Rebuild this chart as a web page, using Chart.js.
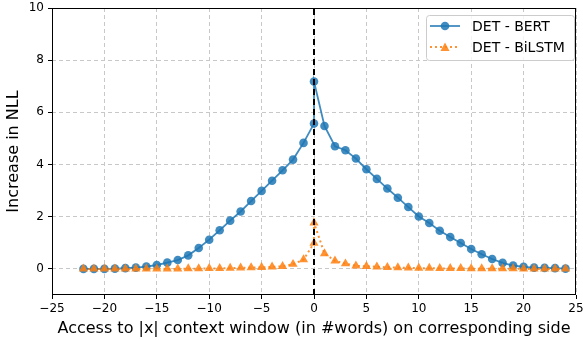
<!DOCTYPE html>
<html>
<head>
	<meta charset="utf-8">
	<title>DET - BERT vs BiLSTM</title>
	<script src="https://cdn.jsdelivr.net/npm/chart.js"></script>
	<style>
		html, body { margin: 0; padding: 0; background: #fff; }
		#grafico { display: block; }
	</style>
</head>
<body>
<canvas id="grafico" width="583" height="340"></canvas>
<script>
	// posiciones en x (el 0 aparece dos veces)
	var xPositions = [-22,-21,-20,-19,-18,-17,-16,-15,-14,-13,-12,-11,-10,-9,-8,-7,-6,-5,-4,-3,-2,-1,
		0,0,
		1,2,3,4,5,6,7,8,9,10,11,12,13,14,15,16,17,18,19,20,21,22,23,24];
	var bertValues = [0.00,0.00,0.00,0.01,0.03,0.05,0.09,0.15,0.24,0.34,0.52,0.80,1.12,1.48,1.85,2.20,2.60,2.99,3.38,3.78,4.19,4.83,
		5.57,7.18,
		5.48,4.70,4.55,4.23,3.82,3.45,3.08,2.73,2.37,2.01,1.76,1.46,1.22,0.99,0.76,0.56,0.38,0.23,0.13,0.08,0.05,0.04,0.03,0.01];
	var bilstmValues = [0,0,0,0,0,0,0,0,0,0,0.01,0.01,0.02,0.02,0.03,0.04,0.05,0.06,0.08,0.10,0.18,0.36,
		0.99,1.77,
		0.59,0.31,0.20,0.12,0.10,0.08,0.06,0.05,0.04,0.03,0.03,0.02,0.02,0.02,0.01,0.01,0.01,0.01,0.01,0,0,0,0,0];
	var seriesNames = ['DET - BERT', 'DET - BiLSTM'];
	var xTicks = [-25,-20,-15,-10,-5,0,5,10,15,20,25];
	var yTicks = [0,2,4,6,8,10];
	var centerLine = [-1, 10];

	var blue = 'rgba(31,119,180,0.85)';
	var orange = 'rgba(255,127,14,0.85)';
	var fontFam = '"DejaVu Sans", sans-serif';

	function toPoints(xs, ys) {
		return xs.map(function (x, i) { return {x: x, y: ys[i]}; });
	}
	function minus(v) {
		return v < 0 ? '\u2212' + Math.abs(v) : String(v);
	}

	// marco negro y leyenda como en matplotlib
	var framePlugin = {
		id: 'frame',
		afterDraw: function (chart) {
			var ctx = chart.ctx, a = chart.chartArea;
			ctx.save();
			ctx.strokeStyle = '#000';
			ctx.lineWidth = 1;
			ctx.strokeRect(a.left + 0.5, a.top + 0.5, a.right - a.left - 1, a.bottom - a.top - 1);

			// leyenda
			var bx = 426, by = 15, bw = 148, bh = 45;
			ctx.fillStyle = 'rgba(255,255,255,0.8)';
			ctx.strokeStyle = '#cccccc';
			ctx.beginPath();
			ctx.roundRect(bx + 0.5, by + 0.5, bw, bh, 3);
			ctx.fill();
			ctx.stroke();

			var rows = [26, 47];
			// BERT
			ctx.strokeStyle = blue; ctx.lineWidth = 1.8; ctx.setLineDash([]);
			ctx.beginPath(); ctx.moveTo(430, rows[0]); ctx.lineTo(460, rows[0]); ctx.stroke();
			ctx.fillStyle = blue;
			ctx.beginPath(); ctx.arc(445, rows[0], 4.3, 0, Math.PI * 2); ctx.fill();
			// BiLSTM
			ctx.strokeStyle = orange; ctx.setLineDash([2, 3]);
			ctx.beginPath(); ctx.moveTo(430, rows[1]); ctx.lineTo(460, rows[1]); ctx.stroke();
			ctx.setLineDash([]);
			ctx.fillStyle = orange;
			ctx.beginPath();
			ctx.moveTo(445, rows[1] - 4.5); ctx.lineTo(449.5, rows[1] + 4); ctx.lineTo(440.5, rows[1] + 4);
			ctx.closePath(); ctx.fill();

			ctx.fillStyle = '#000';
			ctx.font = '14px ' + fontFam;
			ctx.textBaseline = 'middle';
			ctx.fillText(seriesNames[0], 472, rows[0] + 1);
			ctx.fillText(seriesNames[1], 472, rows[1] + 1);
			ctx.restore();
		}
	};

	var ctx = document.getElementById('grafico').getContext('2d');
	var chart = new Chart(ctx, {
		type: 'scatter',
		data: {
			datasets: [{
				label: 'center',
				data: toPoints([0, 0], centerLine),
				showLine: true,
				borderColor: '#000',
				borderWidth: 2,
				borderDash: [6, 4],
				pointRadius: 0,
				order: 0
			}, {
				label: seriesNames[1],
				data: toPoints(xPositions, bilstmValues),
				showLine: true,
				borderColor: orange,
				backgroundColor: orange,
				borderWidth: 2,
				borderDash: [2, 3],
				pointStyle: 'triangle',
				pointRadius: 5.3,
				pointBorderWidth: 0,
				order: 1
			}, {
				label: seriesNames[0],
				data: toPoints(xPositions, bertValues),
				showLine: true,
				borderColor: blue,
				backgroundColor: blue,
				borderWidth: 1.8,
				pointRadius: 4.3,
				pointBorderWidth: 0,
				order: 2
			}]
		},
		options: {
			responsive: false,
			animation: false,
			devicePixelRatio: 1,
			layout: { padding: { top: 8, right: 7, left: 0, bottom: 0 } },
			plugins: { legend: { display: false }, tooltip: { enabled: false } },
			scales: {
				x: {
					type: 'linear', min: -25, max: 25,
					afterBuildTicks: function (s) { s.ticks = xTicks.map(function (v) { return {value: v}; }); },
					afterFit: function (s) { s.height = 45; s.paddingLeft = 0; s.paddingRight = 0; },
					grid: { color: '#c8c8c8', tickColor: '#000', tickLength: 4, tickBorderDash: [], tickWidth: 1 },
					border: { display: false, dash: [4, 3] },
					ticks: { color: '#000', padding: 3, maxRotation: 0, autoSkip: false, font: { family: fontFam, size: 12 },
						callback: function (v) { return minus(v); } },
					title: { display: true, text: 'Access to |x| context window (in #words) on corresponding side',
						color: '#000', font: { family: fontFam, size: 16 }, padding: { top: 0, bottom: 2 } }
				},
				y: {
					type: 'linear', min: -1, max: 10,
					afterBuildTicks: function (s) { s.ticks = yTicks.map(function (v) { return {value: v}; }); },
					afterFit: function (s) { s.width = 52; s.paddingTop = 0; s.paddingBottom = 0; },
					grid: { color: '#c8c8c8', tickColor: '#000', tickLength: 4, tickBorderDash: [], tickWidth: 1 },
					border: { display: false, dash: [4, 3] },
					ticks: { color: '#000', padding: 4, autoSkip: false, font: { family: fontFam, size: 12 },
						callback: function (v) { return minus(v); } },
					title: { display: true, text: 'Increase in NLL',
						color: '#000', font: { family: fontFam, size: 16 }, padding: { top: 4, bottom: 0 } }
				}
			}
		},
		plugins: [framePlugin]
	});
</script>
</body>
</html>
